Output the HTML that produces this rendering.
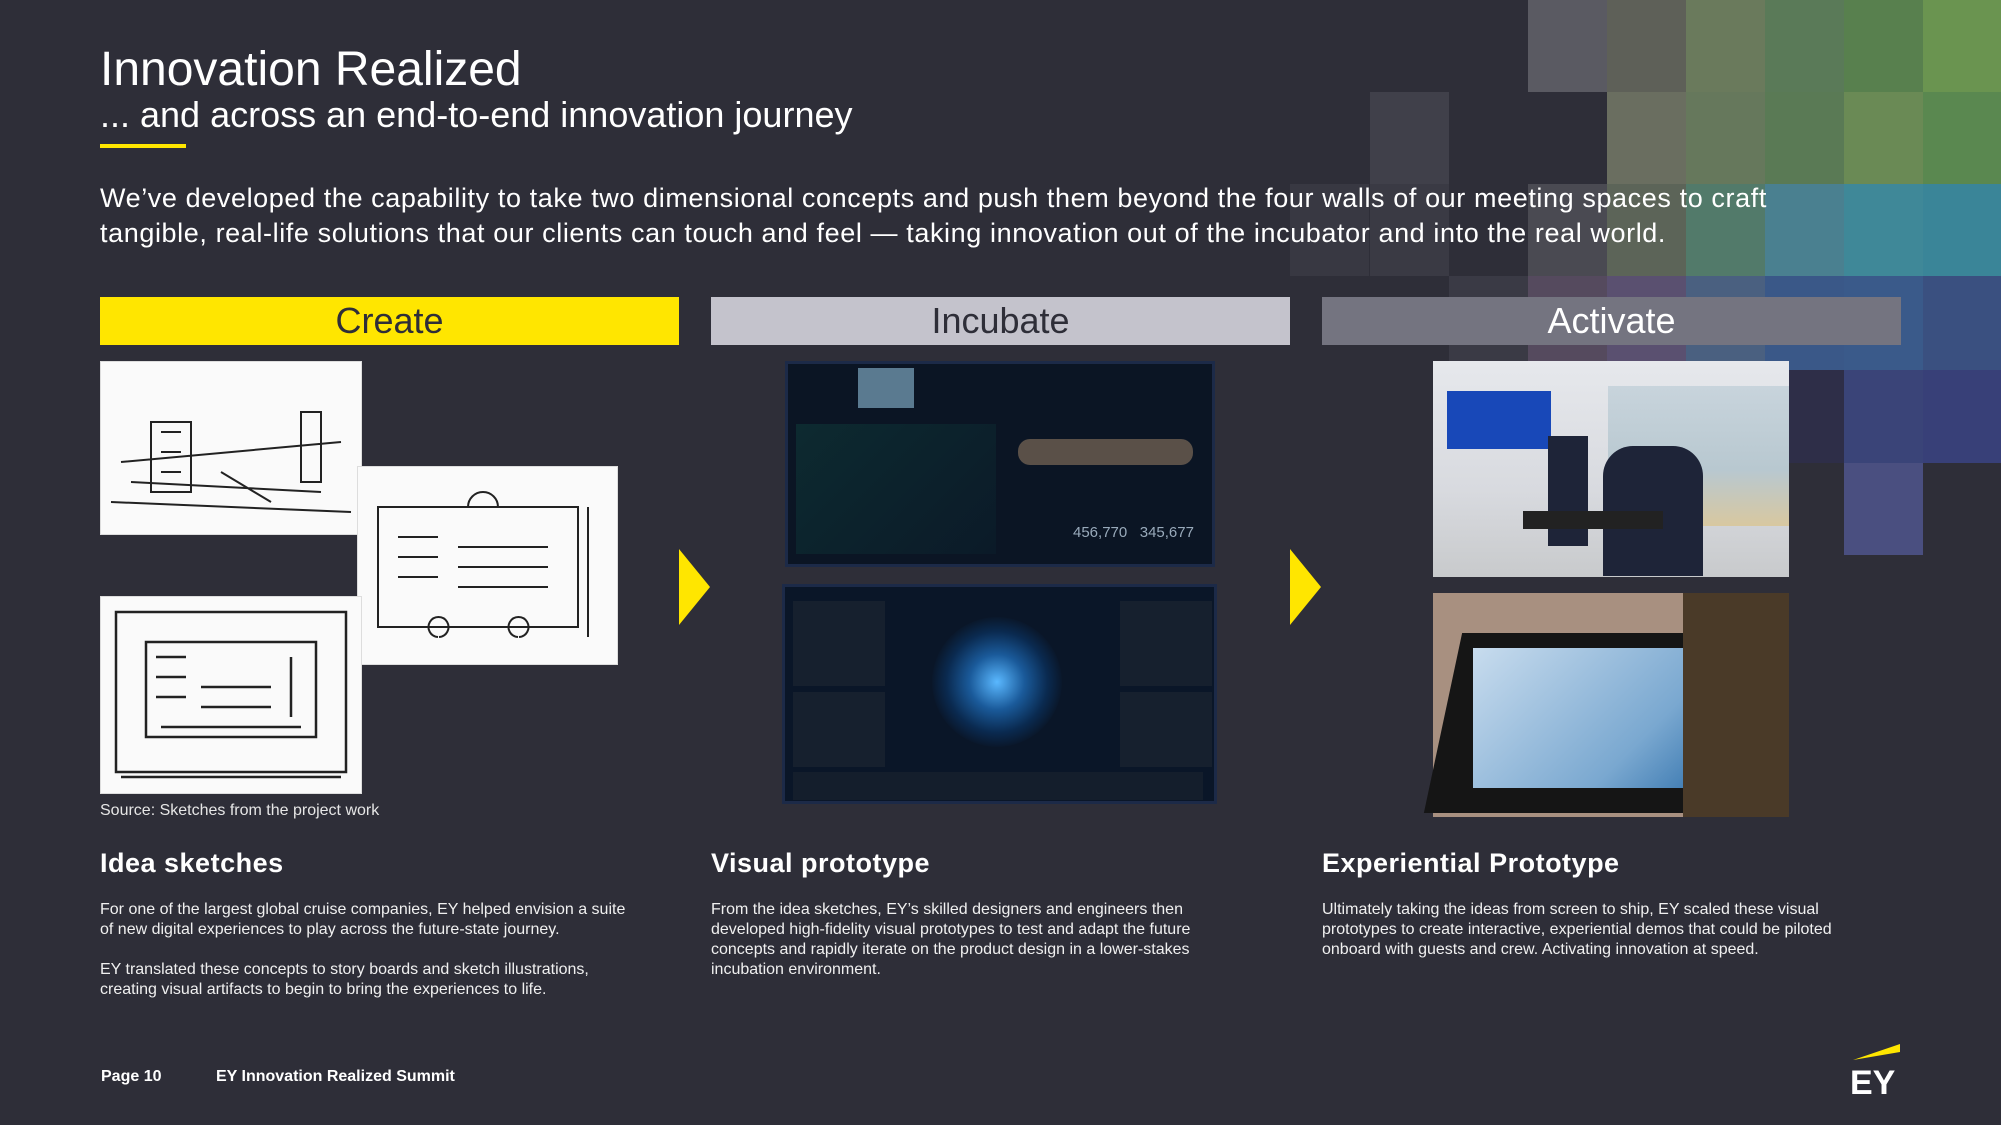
<!DOCTYPE html>
<html><head><meta charset="utf-8"><style>
*{margin:0;padding:0;box-sizing:border-box}
body{width:2001px;height:1125px;background:#2e2e38;font-family:"Liberation Sans",sans-serif;color:#fff;position:relative;overflow:hidden}
.a{position:absolute}
.mos div{position:absolute;width:79px;height:92px}
.bar{position:absolute;top:297px;height:48px;font-size:36px;text-align:center;line-height:48px}
.h{position:absolute;top:848px;font-size:27px;font-weight:bold;letter-spacing:0.5px}
.p{position:absolute;top:900px;font-size:16px;line-height:20px;color:#f0f0f0;white-space:nowrap}
.arr{position:absolute;width:0;height:0;border-top:38px solid transparent;border-bottom:38px solid transparent;border-left:31px solid #ffe600;top:549px}
.sk{position:absolute;background:#fafafa;border:1px solid #ddd}
</style></head><body>
<div class="mos">
<div style="left:1528px;top:0;background:#5a5a62"></div>
<div style="left:1607px;top:0;background:#5e6058"></div>
<div style="left:1686px;top:0;background:#6a7a5c"></div>
<div style="left:1765px;top:0;background:#5a7a58"></div>
<div style="left:1844px;top:0;background:#58804e"></div>
<div style="left:1923px;top:0;width:78px;background:#6a9450"></div>
<div style="left:1370px;top:92px;background:#40404a"></div>
<div style="left:1607px;top:92px;background:#6a6e60"></div>
<div style="left:1686px;top:92px;background:#66785c"></div>
<div style="left:1765px;top:92px;background:#5a7a55"></div>
<div style="left:1844px;top:92px;background:#6a8a55"></div>
<div style="left:1923px;top:92px;width:78px;background:#5a8850"></div>
<div style="left:1290px;top:184px;background:#383842"></div>
<div style="left:1370px;top:184px;background:#3a3a44"></div>
<div style="left:1528px;top:184px;background:#4a4a52"></div>
<div style="left:1607px;top:184px;background:#5c6458"></div>
<div style="left:1686px;top:184px;background:#527a6a"></div>
<div style="left:1765px;top:184px;background:#4a8090"></div>
<div style="left:1844px;top:184px;background:#3f8898"></div>
<div style="left:1923px;top:184px;width:78px;background:#3a8598"></div>
<div style="left:1449px;top:276px;background:#3a3a45;height:94px"></div>
<div style="left:1528px;top:276px;background:#554a5e;height:94px"></div>
<div style="left:1607px;top:276px;background:#5a5070;height:94px"></div>
<div style="left:1686px;top:276px;background:#4a6080;height:94px"></div>
<div style="left:1765px;top:276px;background:#3a5888;height:94px"></div>
<div style="left:1844px;top:276px;background:#3a5a8a;height:94px"></div>
<div style="left:1923px;top:276px;width:78px;background:#3a5080;height:94px"></div>
<div style="left:1686px;top:370px;background:#48487a;height:93px"></div>
<div style="left:1765px;top:370px;background:#2e2e48;height:93px"></div>
<div style="left:1844px;top:370px;background:#3a4478;height:93px"></div>
<div style="left:1923px;top:370px;width:78px;background:#384078;height:93px"></div>
<div style="left:1844px;top:463px;background:#4a4f80;height:92px"></div>
</div>
<div class="a" style="left:100px;top:42px;font-size:48px;">Innovation Realized</div>
<div class="a" style="left:100px;top:94px;font-size:36px;">... and across an end-to-end innovation journey</div>
<div class="a" style="left:100px;top:144px;width:86px;height:4px;background:#ffe600"></div>
<div class="a" style="left:100px;top:181px;font-size:27px;line-height:35px;white-space:nowrap;letter-spacing:0.6px">We’ve developed the capability to take two dimensional concepts and push them beyond the four walls of our meeting spaces to craft<br>tangible, real-life solutions that our clients can touch and feel — taking innovation out of the incubator and into the real world.</div>
<div class="bar" style="left:100px;width:579px;background:#ffe600;color:#2e2e38">Create</div>
<div class="bar" style="left:711px;width:579px;background:#c4c3cc;color:#2e2e38">Incubate</div>
<div class="bar" style="left:1322px;width:579px;background:#747480;color:#fff">Activate</div>
<div class="sk" style="left:100px;top:361px;width:262px;height:174px"><svg width="262" height="174"><g stroke="#222" fill="none" stroke-width="2"><path d="M20 100 L240 80 M10 140 L250 150 M50 60 h40 v70 h-40z M60 70h20 M60 90h20 M60 110h20 M200 50 v70 h20 v-70z M120 110 L170 140 M30 120 L220 130"/></g></svg></div>
<div class="sk" style="left:357px;top:466px;width:261px;height:199px"><svg width="261" height="199"><g stroke="#222" fill="none" stroke-width="2"><rect x="20" y="40" width="200" height="120"/><path d="M40 70h40 M40 90h40 M40 110h40 M100 80h90 M100 100h90 M100 120h90 M110 40 a15 15 0 1 1 30 0 M230 40 v130 M80 170 a10 10 0 1 1 1 0 M160 170 a10 10 0 1 1 1 0"/></g></svg></div>
<div class="sk" style="left:100px;top:596px;width:262px;height:198px"><svg width="262" height="198"><g stroke="#222" fill="none" stroke-width="2.5"><rect x="15" y="15" width="230" height="160"/><rect x="45" y="45" width="170" height="95"/><path d="M55 60h30 M55 80h30 M55 100h30 M100 90h70 M100 110h70 M190 60v60 M60 130h140 M20 180h220"/></g></svg></div>
<div class="a" style="left:100px;top:802px;font-size:16px;color:#e6e6e6">Source: Sketches from the project work</div>
<div class="arr" style="left:679px"></div>
<div class="arr" style="left:1290px"></div>
<div class="a" style="left:785px;top:361px;width:430px;height:206px;background:#0b1524;border:3px solid #1c2a48">
<div class="a" style="left:70px;top:4px;width:56px;height:40px;background:#5a7a90"></div>
<div class="a" style="left:230px;top:75px;width:175px;height:26px;background:#5a5048;border-radius:12px"></div>
<div class="a" style="left:8px;top:60px;width:200px;height:130px;background:linear-gradient(135deg,#0d2a30,#0b1a28)"></div>
<div class="a" style="left:285px;top:160px;font-size:15px;color:#9ab">456,770 &nbsp; 345,677</div>
</div>
<div class="a" style="left:782px;top:584px;width:435px;height:220px;background:#0a1628;border:3px solid #1c2a48">
<div class="a" style="left:147px;top:30px;width:130px;height:130px;border-radius:50%;background:radial-gradient(circle,#5ab8ff 0,#1a5a9a 30%,#0a2a50 55%,#0a1628 72%)"></div>
<div class="a" style="left:8px;top:14px;width:92px;height:85px;background:#16202e"></div>
<div class="a" style="left:8px;top:105px;width:92px;height:75px;background:#16202e"></div>
<div class="a" style="left:335px;top:14px;width:92px;height:85px;background:#16202e"></div>
<div class="a" style="left:335px;top:105px;width:92px;height:75px;background:#16202e"></div>
<div class="a" style="left:8px;top:185px;width:410px;height:28px;background:#141e2c"></div>
</div>
<div class="a" style="left:1433px;top:361px;width:356px;height:216px;background:linear-gradient(180deg,#e6e8ec 0,#d8dadf 60%,#c8cacc 100%)">
<div class="a" style="left:14px;top:30px;width:104px;height:58px;background:#1848b8"></div>
<div class="a" style="left:175px;top:25px;width:181px;height:140px;background:linear-gradient(180deg,#c8d4dc,#b8c8d0 60%,#d8c8a0)"></div>
<div class="a" style="left:115px;top:75px;width:40px;height:110px;background:#1e2438"></div>
<div class="a" style="left:170px;top:85px;width:100px;height:130px;background:#1e2438;border-radius:30px 30px 0 0"></div>
<div class="a" style="left:90px;top:150px;width:140px;height:18px;background:#222"></div>
</div>
<div class="a" style="left:1433px;top:593px;width:356px;height:224px;background:#a89080">
<div class="a" style="left:10px;top:40px;width:280px;height:180px;background:#151515;transform:skewX(-12deg)"></div>
<div class="a" style="left:40px;top:55px;width:230px;height:140px;background:linear-gradient(135deg,#c8dcee,#7aa8d0 70%,#3a78b0)"></div>
<div class="a" style="left:250px;top:0;width:106px;height:224px;background:#4a3a28"></div>
</div>
<div class="h" style="left:100px">Idea sketches</div>
<div class="h" style="left:711px">Visual prototype</div>
<div class="h" style="left:1322px">Experiential Prototype</div>
<div class="p" style="left:100px">For one of the largest global cruise companies, EY helped envision a suite<br>of new digital experiences to play across the future-state journey.<br><br>EY translated these concepts to story boards and sketch illustrations,<br>creating visual artifacts to begin to bring the experiences to life.</div>
<div class="p" style="left:711px">From the idea sketches, EY’s skilled designers and engineers then<br>developed high-fidelity visual prototypes to test and adapt the future<br>concepts and rapidly iterate on the product design in a lower-stakes<br>incubation environment.</div>
<div class="p" style="left:1322px">Ultimately taking the ideas from screen to ship, EY scaled these visual<br>prototypes to create interactive, experiential demos that could be piloted<br>onboard with guests and crew. Activating innovation at speed.</div>
<div class="a" style="left:101px;top:1068px;font-size:16px;font-weight:bold">Page 10</div>
<div class="a" style="left:216px;top:1068px;font-size:16px;font-weight:bold">EY Innovation Realized Summit</div>
<svg class="a" style="left:1848px;top:1042px" width="56" height="56"><polygon points="5,18 52,2 52,10" fill="#ffe600"/><text x="2" y="52" font-family="Liberation Sans" font-weight="bold" font-size="34" fill="#fff">EY</text></svg>
</body></html>
